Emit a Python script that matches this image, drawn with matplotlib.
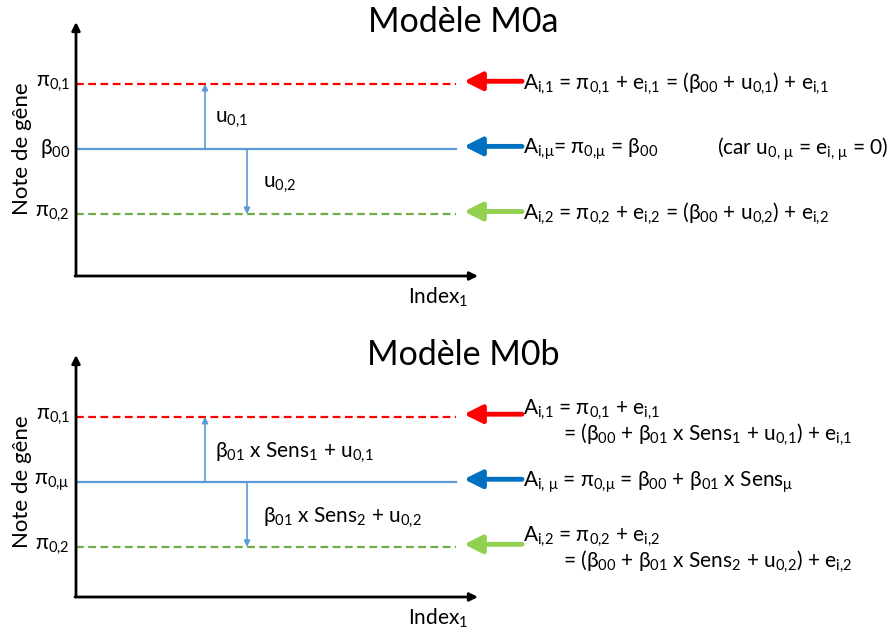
import matplotlib
matplotlib.use('Agg')
import matplotlib.pyplot as plt

plt.rcParams['font.family'] = ['Lato', 'DejaVu Sans']
plt.rcParams['mathtext.fontset'] = 'custom'
plt.rcParams['mathtext.rm'] = 'Lato'
plt.rcParams['mathtext.it'] = 'Lato'
plt.rcParams['mathtext.default'] = 'regular'

# diagram content
titles = ['Modèle M0a', 'Modèle M0b']
levels = [1, 0, -1]                       # group 1, mean, group 2
line_colors = ['#FF0000', '#5B9BD5', '#70AD47']
line_styles = ['--', '-', '--']
arrow_colors = ['#FF0000', '#0070C0', '#92D050']
level_labels = [['π$_{0{,}1}$', 'β$_{00}$', 'π$_{0{,}2}$'],
                ['π$_{0{,}1}$', 'π$_{0{,}μ}$', 'π$_{0{,}2}$']]
shift_labels = [['u$_{0{,}1}$', 'u$_{0{,}2}$'],
                ['β$_{01}$ x Sens$_{1}$ + u$_{0{,}1}$', 'β$_{01}$ x Sens$_{2}$ + u$_{0{,}2}$']]
eq_a = ['A$_{i{,}1}$ = π$_{0{,}1}$ + e$_{i{,}1}$ = (β$_{00}$ + u$_{0{,}1}$) + e$_{i{,}1}$',
        'A$_{i{,}μ}$= π$_{0{,}μ}$ = β$_{00}$',
        'A$_{i{,}2}$ = π$_{0{,}2}$ + e$_{i{,}2}$ = (β$_{00}$ + u$_{0{,}2}$) + e$_{i{,}2}$']
eq_a_note = '(car u$_{0{,}\\ μ}$ = e$_{i{,}\\ μ}$ = 0)'
eq_b = ['A$_{i{,}1}$ = π$_{0{,}1}$ + e$_{i{,}1}$',
        'A$_{i{,}\\ μ}$ = π$_{0{,}μ}$ = β$_{00}$ + β$_{01}$ x Sens$_{μ}$',
        'A$_{i{,}2}$ = π$_{0{,}2}$ + e$_{i{,}2}$']
eq_b_cont = ['= (β$_{00}$ + β$_{01}$ x Sens$_{1}$ + u$_{0{,}1}$) + e$_{i{,}1}$',
             None,
             '= (β$_{00}$ + β$_{01}$ x Sens$_{2}$ + u$_{0{,}2}$) + e$_{i{,}2}$']

FS = 15
fig = plt.figure(figsize=(8.96, 6.32), dpi=100)
W, H = 896, 632
# panel boxes in pixels: top, bottom of y axis, y range
boxes = [(22, 276, (-1.95, 1.95)), (355, 597, (-1.77, 1.95))]

for p, (top, bot, ylim) in enumerate(boxes):
    ax = fig.add_axes([76 / W, 1 - bot / H, 820 / W, (bot - top) / H])
    ax.set_xlim(0, 820)
    ax.set_ylim(*ylim)
    ax.axis('off')

    # axes arrows
    ax.annotate('', xy=(0, ylim[1]), xytext=(0, ylim[0]), annotation_clip=False,
                arrowprops=dict(arrowstyle='-|>', color='black', lw=2, mutation_scale=12,
                                shrinkA=0, shrinkB=0))
    ax.annotate('', xy=(402, ylim[0]), xytext=(-1, ylim[0]), annotation_clip=False,
                arrowprops=dict(arrowstyle='-|>', color='black', lw=2, mutation_scale=12,
                                shrinkA=0, shrinkB=0))

    fig.text(463 / W, 1 - top / H, titles[p], ha='center', va='center', fontsize=24.5)

    # levels
    for i, lv in enumerate(levels):
        ax.plot([0, 380], [lv, lv], color=line_colors[i], ls=line_styles[i], lw=1.6,
                dashes=(3.5, 2) if line_styles[i] == '--' else (None, None), clip_on=False)
        ax.text(-6, lv, level_labels[p][i], ha='right', va='center', fontsize=FS, clip_on=False)
        ax.annotate('', xy=(388, lv + 0.04), xytext=(446, lv + 0.04), annotation_clip=False,
                    arrowprops=dict(arrowstyle='-|>,head_length=0.9,head_width=0.45',
                                    color=arrow_colors[i], lw=3.5, mutation_scale=12,
                                    shrinkA=0, shrinkB=0))

    # shifts
    ax.annotate('', xy=(129, levels[0]), xytext=(129, levels[1]), annotation_clip=False,
                arrowprops=dict(arrowstyle='-|>', color='#5B9BD5', lw=1.2, mutation_scale=9,
                                shrinkA=0, shrinkB=0))
    ax.annotate('', xy=(171, levels[2]), xytext=(171, levels[1]), annotation_clip=False,
                arrowprops=dict(arrowstyle='-|>', color='#5B9BD5', lw=1.2, mutation_scale=9,
                                shrinkA=0, shrinkB=0))
    ax.text(139, 0.45, shift_labels[p][0], ha='left', va='center', fontsize=FS, clip_on=False)
    ax.text(187, -0.55, shift_labels[p][1], ha='left', va='center', fontsize=FS, clip_on=False)

    ax.text(332, ylim[0] - 0.33, 'Index$_{1}$', ha='left', va='center', fontsize=FS,
            clip_on=False)
    ax.text(-54, 0, 'Note de gêne', rotation=90, ha='center', va='center', fontsize=16,
            clip_on=False)

    # equations
    if p == 0:
        for i, lv in enumerate(levels):
            ax.text(447, lv, eq_a[i], ha='left', va='center', fontsize=FS, clip_on=False)
        ax.text(641, levels[1], eq_a_note, ha='left', va='center', fontsize=FS, clip_on=False)
    else:
        offs = [0.05, 0.0, 0.1]
        for i, lv in enumerate(levels):
            if eq_b_cont[i] is None:
                ax.text(447, lv, eq_b[i], ha='left', va='center', fontsize=FS, clip_on=False)
            else:
                ax.text(447, lv + offs[i] + 0.06, eq_b[i], ha='left', va='center',
                        fontsize=FS, clip_on=False)
                ax.text(487, lv + offs[i] - 0.33, eq_b_cont[i], ha='left', va='center',
                        fontsize=FS, clip_on=False)

fig.savefig('out.png', dpi=100)
